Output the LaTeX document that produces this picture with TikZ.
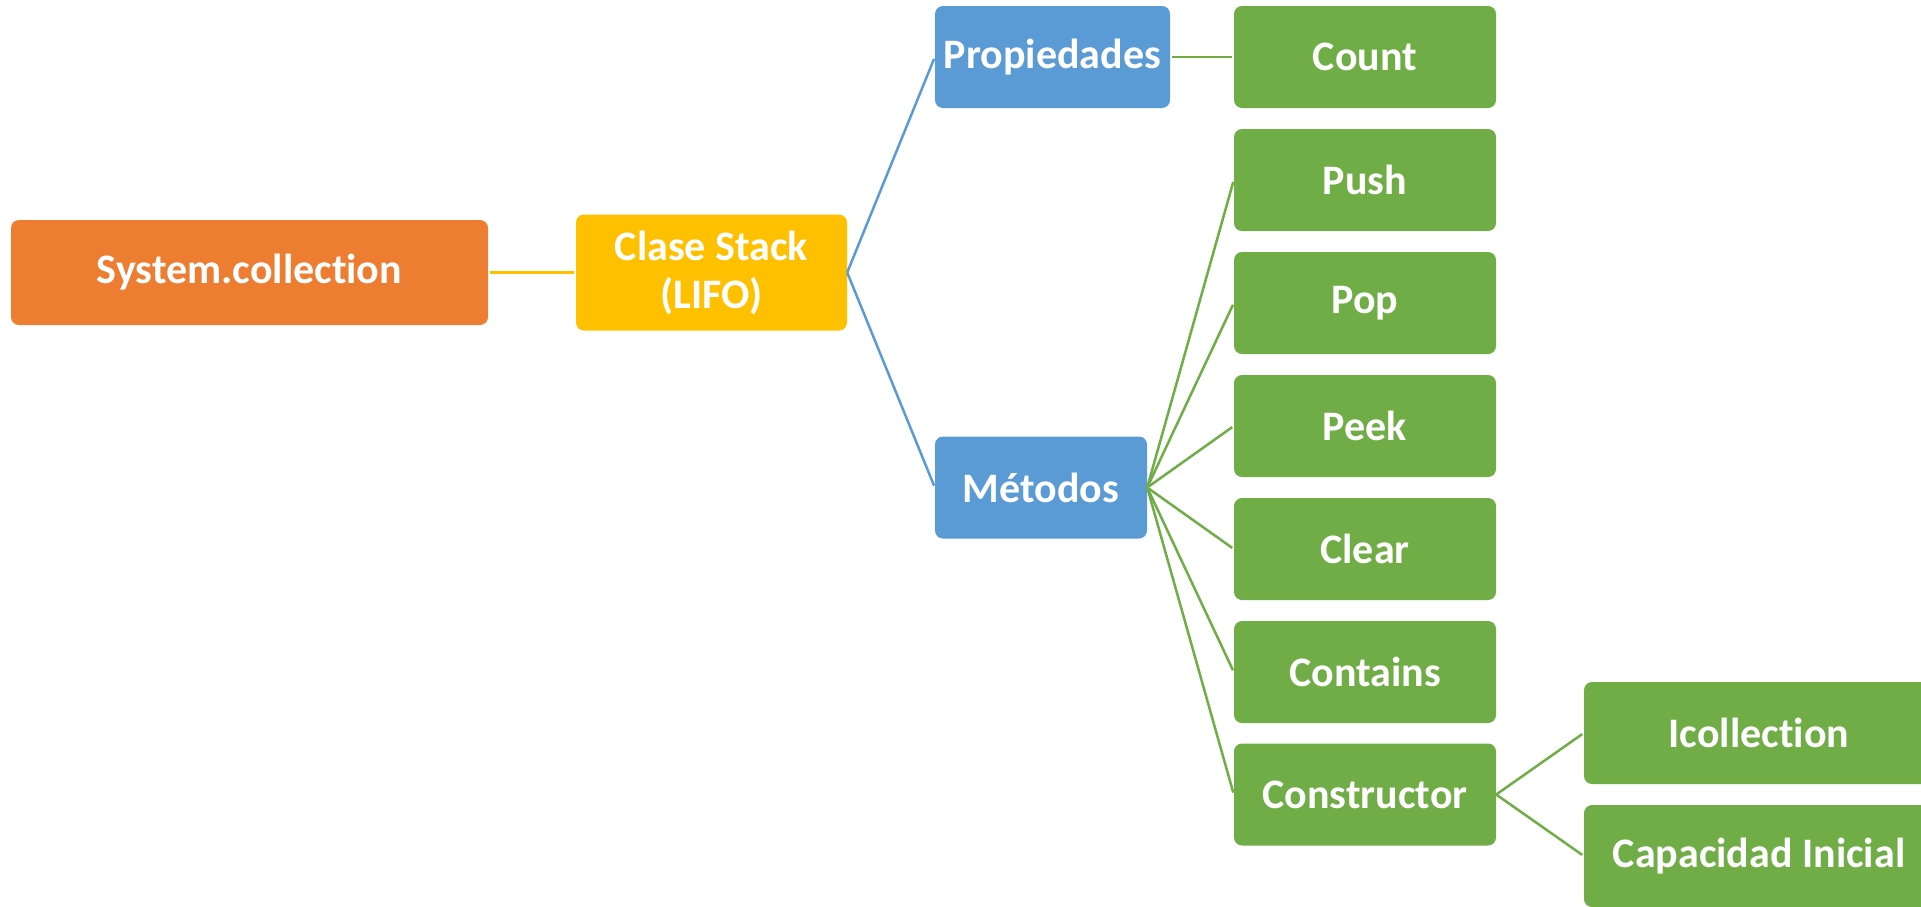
\documentclass[tikz,border=0pt]{standalone}
\usepackage{fontspec}
\setmainfont{Carlito}[RawFeature=-liga]
\definecolor{corange}{HTML}{ED7D31}
\definecolor{cyellow}{HTML}{FFC000}
\definecolor{cblue}{HTML}{5B9BD5}
\definecolor{cgreen}{HTML}{70AD47}
\begin{document}
\begin{tikzpicture}[x=1pt,y=-1pt,
  box/.style={rectangle, rounded corners=8pt, inner sep=0pt, text=white,
    font=\fontsize{42}{48}\selectfont\bfseries, align=center},
  orangebox/.style={box, fill=corange, minimum width=477pt, minimum height=105pt},
  yellowbox/.style={box, fill=cyellow, minimum width=271pt, minimum height=116pt},
  bluebox/.style={box, fill=cblue, minimum height=102pt},
  greenbox/.style={box, fill=cgreen, minimum width=262pt, minimum height=102pt},
  leafbox/.style={box, fill=cgreen, minimum width=350pt, minimum height=102pt},
  link/.style={line width=2.5pt, shorten <=2pt, shorten >=2pt}]
\useasboundingbox (0,0) rectangle (1921,906);
\begin{scope}
\clip (0,0) rectangle (1921,906);
% root and class
\node[orangebox] (sys) at (249.5,272.5) {System.collection};
\node[yellowbox] (stack) at (711.5,272.5) {Clase Stack\\(LIFO)};
% categories
\node[bluebox, minimum width=235pt] (prop) at (1052.5,57) {Propiedades};
\node[bluebox, minimum width=212pt] (met) at (1041,487.5) {Métodos};
% members
\node[greenbox] (count) at (1365,57) {Count};
\node[greenbox] (push) at (1365,180) {Push};
\node[greenbox] (pop) at (1365,303) {Pop};
\node[greenbox] (peek) at (1365,426) {Peek};
\node[greenbox] (clear) at (1365,549) {Clear};
\node[greenbox] (contains) at (1365,672) {Contains};
\node[greenbox] (ctor) at (1365,794.5) {Constructor};
\node[leafbox] (icol) at (1759,733) {Icollection};
\node[leafbox] (cap) at (1759,856) {Capacidad Inicial};
\end{scope}
% connectors
\draw[link, cyellow] (sys.east) -- (stack.west);
\draw[link, cblue, shorten <=0pt] (stack.east) -- (prop.west);
\draw[link, cblue, shorten <=0pt] (stack.east) -- (met.west);
\draw[link, cgreen] (prop.east) -- (count.west);
\foreach \m in {push,pop,peek,clear,contains,ctor}
  \draw[link, cgreen, shorten <=0pt] (met.east) -- (\m.west);
\draw[link, cgreen, shorten <=0pt] (ctor.east) -- (icol.west);
\draw[link, cgreen, shorten <=0pt] (ctor.east) -- (cap.west);
\end{tikzpicture}
\end{document}
